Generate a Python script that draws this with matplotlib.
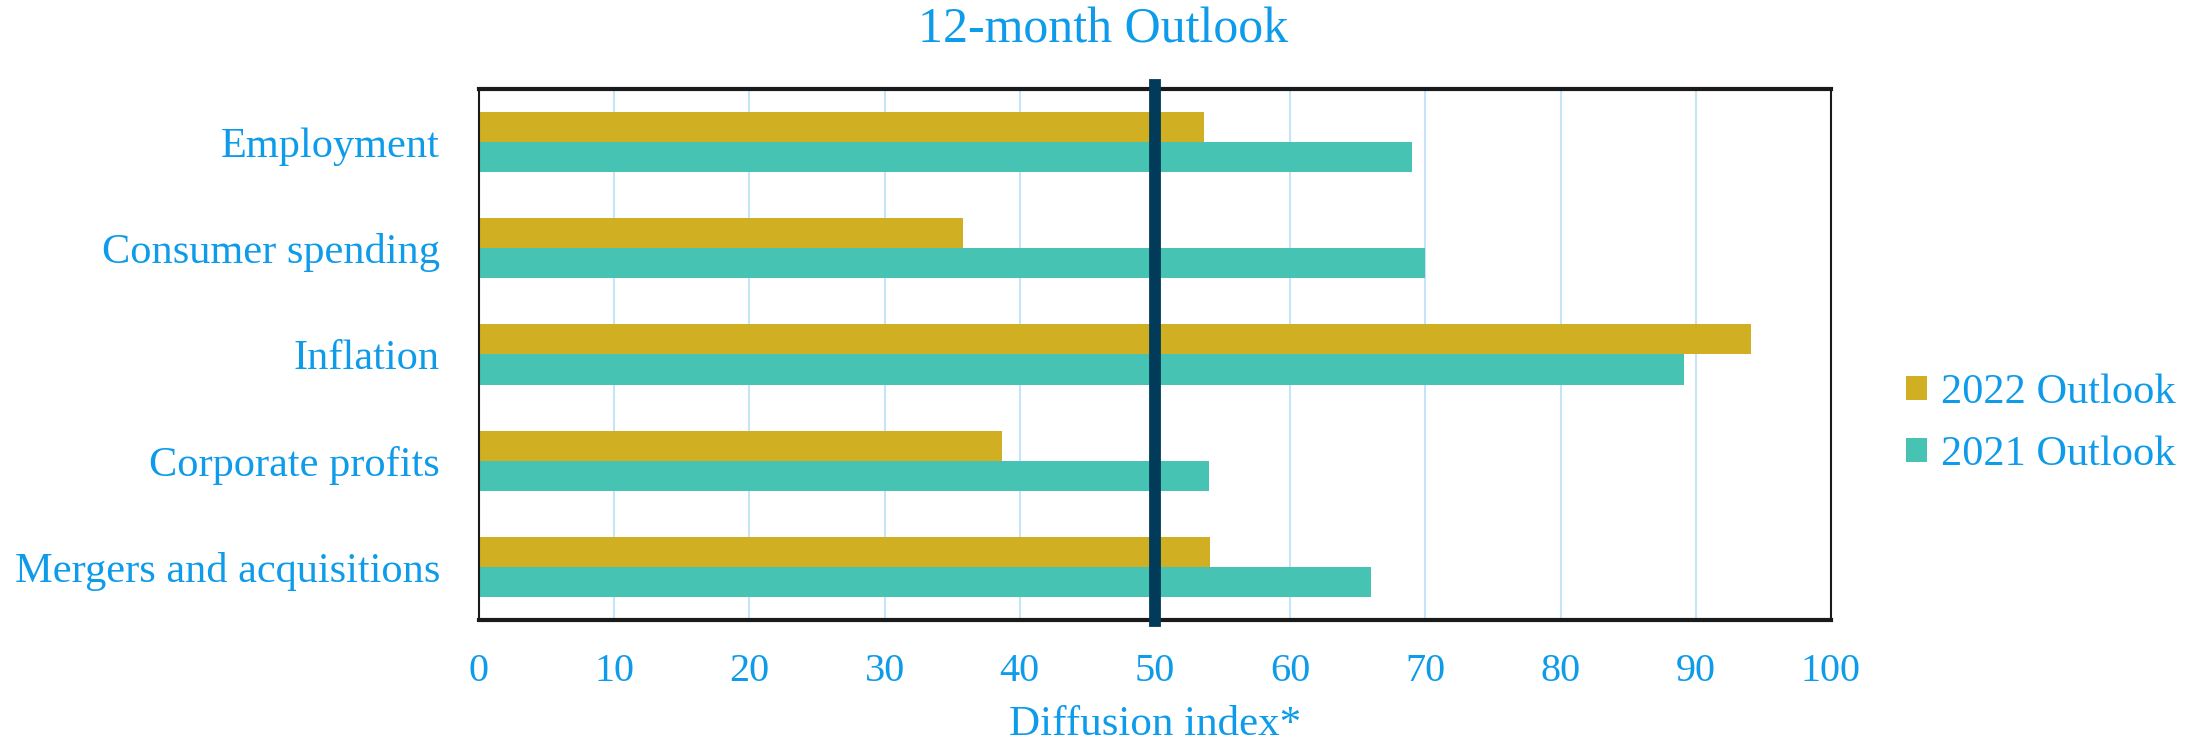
import matplotlib
matplotlib.use("Agg")
import matplotlib.pyplot as plt
import numpy as np

categories = ["Employment", "Consumer spending", "Inflation", "Corporate profits", "Mergers and acquisitions"]
outlook_2022 = [53.6, 35.8, 94.1, 38.7, 54.1]
outlook_2021 = [69.0, 70.0, 89.1, 54.0, 66.0]
series_labels = ["2022 Outlook", "2021 Outlook"]
xticks = [0, 10, 20, 30, 40, 50, 60, 70, 80, 90, 100]
threshold = 50

TXT = "#0e9be9"
GOLD = "#d0af22"
TEAL = "#47c3b3"
NAVY = "#023a5a"

plt.rcParams['font.family'] = ['Liberation Serif', 'DejaVu Serif']

fig = plt.figure(figsize=(22.06, 7.46), dpi=100)
ax = fig.add_axes([479/2206, 1 - 620/746, (1831-479)/2206, (620-89)/746])

y = np.arange(len(categories))
h = 0.283
ax.barh(y - h/2, outlook_2022, height=h, color=GOLD, label=series_labels[0], zorder=2)
ax.barh(y + h/2, outlook_2021, height=h, color=TEAL, label=series_labels[1], zorder=2)

ax.set_ylim(len(categories) - 0.5, -0.5)
ax.set_xlim(0, 100)
ax.set_yticks(y)
ax.set_yticklabels(categories, fontsize=30.5, color=TXT)
ax.set_xticks(xticks)
ax.set_xticklabels([str(t) for t in xticks], fontsize=29, color=TXT)
ax.tick_params(axis='both', length=0)
ax.tick_params(axis='y', pad=28)
ax.tick_params(axis='x', pad=24)
ax.grid(axis='x', color='#c6e4f7', linewidth=1.5, zorder=0)
ax.set_axisbelow(True)

ax.axvline(threshold, ymin=-0.002, ymax=1.008, color=NAVY, linewidth=8.5, zorder=4, clip_on=False)

for side in ['top', 'left', 'right', 'bottom']:
    ax.spines[side].set_color('#1a1a1a')
ax.spines['top'].set_linewidth(3)
ax.spines['bottom'].set_linewidth(3)
ax.spines['left'].set_linewidth(1.5)
ax.spines['right'].set_linewidth(1.5)

ax.set_xlabel("Diffusion index*", fontsize=31, color=TXT, labelpad=11)
fig.text(0.5, 1 - 30/746, "12-month Outlook", fontsize=36, color=TXT, ha='center', va='center')

leg = fig.legend(loc='center left', bbox_to_anchor=(1868/2206, 1 - 424/746),
                 bbox_transform=fig.transFigure, frameon=False,
                 fontsize=30.5, handlelength=0.5, handleheight=0.5, handletextpad=0.33,
                 labelspacing=0.55)
for t in leg.get_texts():
    t.set_color(TXT)

fig.savefig("out.png", dpi=100)
